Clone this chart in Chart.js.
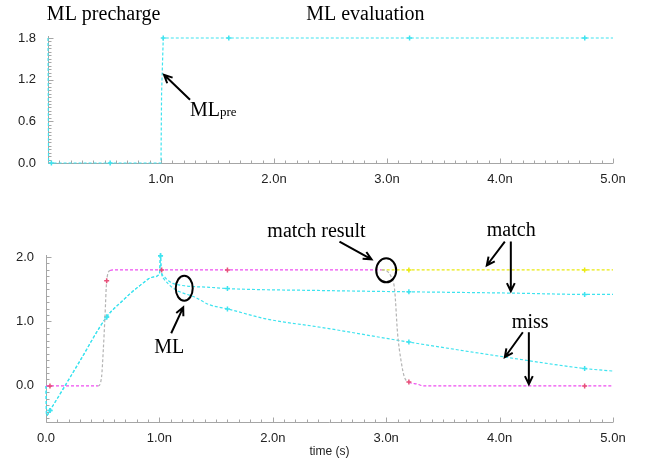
<!DOCTYPE html>
<html>
<head>
<meta charset="utf-8">
<script src="https://cdn.jsdelivr.net/npm/chart.js@4.4.1/dist/chart.umd.min.js"></script>
<style>
  body { margin: 0; background: #fff; }
  #wrap { position: relative; width: 648px; height: 466px; }
  canvas { position: absolute; left: 0; }
</style>
</head>
<body>
<div id="wrap">
  <canvas id="preChart" width="648" height="195" style="top:0"></canvas>
  <canvas id="evalChart" width="648" height="271" style="top:195px"></canvas>
</div>
<script>
// axes (time in ns)
const xMajor = [0, 1, 2, 3, 4, 5];
const xLabelsTop = ['', '1.0n', '2.0n', '3.0n', '4.0n', '5.0n'];
const xLabelsBottom = ['0.0', '1.0n', '2.0n', '3.0n', '4.0n', '5.0n'];
const topYMajor = [0, 0.6, 1.2, 1.8];
const topYLabels = ['0.0', '0.6', '1.2', '1.8'];
const botYMajor = [0, 1, 2];
const botYLabels = ['0.0', '1.0', '2.0'];

// ML precharge signal (top)
const preT = [0, 0.005, 0.03, 0.55, 1.0, 1.005, 1.02, 1.6, 3.2, 4.75, 5.0];
const preV = [1.8, 0, 0, 0, 0, 1.0, 1.8, 1.8, 1.8, 1.8, 1.8];
const preMarks = [0.03, 0.55, 1.02, 1.6, 3.2, 4.75];

// match result, miss case (magenta)
const missResT = [0, 0.035, 0.46, 0.49, 0.505, 0.52, 0.535, 0.565, 0.6, 1.02, 1.6, 2.96, 3.045, 3.075, 3.10, 3.13, 3.16, 3.2, 3.27, 3.33, 4.75, 5.0];
const missResV = [0, 0, 0, 0.14, 0.55, 1.07, 1.63, 1.79, 1.8, 1.8, 1.8, 1.8, 1.69, 1.48, 0.82, 0.40, 0.14, 0.06, 0.03, 0, 0, 0];
const missResMarks = [0.035, 0.535, 1.02, 1.6, 3.2, 4.75];

// match result, match case (yellow)
const matchResT = [0, 0.035, 0.46, 0.49, 0.505, 0.52, 0.535, 0.565, 0.6, 1.02, 1.6, 2.96, 3.2, 4.75, 5.0];
const matchResV = [0, 0, 0, 0.14, 0.55, 1.07, 1.63, 1.79, 1.8, 1.8, 1.8, 1.8, 1.8, 1.8, 1.8];
const matchResMarks = [3.2, 4.75];

// ML, match case (cyan)
const mlMatchT = [0, 0.005, 0.035, 0.285, 0.535, 0.68, 0.83, 0.946, 1.0, 1.01, 1.015, 1.04, 1.08, 1.12, 1.24, 1.44, 1.6, 2.42, 3.2, 4.1, 4.75, 5.0];
const mlMatchV = [0, -0.46, -0.38, 0.345, 1.07, 1.33, 1.56, 1.69, 1.74, 2.02, 1.80, 1.70, 1.63, 1.59, 1.55, 1.53, 1.51, 1.48, 1.46, 1.44, 1.42, 1.42];

// ML, miss case (cyan)
const mlMissT = [0, 0.005, 0.035, 0.285, 0.535, 0.68, 0.83, 0.946, 1.0, 1.01, 1.015, 1.04, 1.08, 1.11, 1.18, 1.31, 1.44, 1.6, 1.94, 2.42, 3.2, 4.04, 4.75, 5.0];
const mlMissV = [0, -0.46, -0.38, 0.345, 1.07, 1.33, 1.56, 1.69, 1.74, 2.02, 1.80, 1.66, 1.58, 1.53, 1.46, 1.38, 1.26, 1.195, 1.04, 0.91, 0.68, 0.45, 0.27, 0.23];
const mlMarks = [0.035, 0.535, 1.01, 1.6, 3.2, 4.75];

// annotations, in data coordinates of each panel
const topTexts = [
  { x: -0.01, y: 2.06, text: 'ML precharge' },
  { x: 2.285, y: 2.06, text: 'ML evaluation' },
  { x: 1.257, y: 0.67, text: 'ML', sub: 'pre' }
];
const topArrows = [[1.257, 0.91, 1.027, 1.27]];
const botTexts = [
  { x: 1.952, y: 2.305, text: 'match result' },
  { x: 3.887, y: 2.32, text: 'match' },
  { x: 4.108, y: 0.895, text: 'miss' },
  { x: 0.954, y: 0.507, text: 'ML' }
];
const botArrows = [
  [2.588, 2.24, 2.871, 1.964],
  [4.046, 2.24, 3.887, 1.868],
  [4.099, 2.24, 4.099, 1.468],
  [4.205, 0.833, 4.046, 0.445],
  [4.258, 0.833, 4.258, 0.026],
  [1.104, 0.817, 1.21, 1.219]
];
const botRings = [[3.0, 1.794, 10, 12], [1.219, 1.515, 8.5, 12.5]];

const CYAN = '#3fe3ef';
const MAGENTA = '#ee4ef0';
const YELLOW = '#eaea10';
const GRAY = '#b4b4b4';

function pts(t, v) {
  return t.map((x, i) => ({ x: x, y: v[i] }));
}

function tickList(majors, step, min, max) {
  const out = [];
  const n = Math.round((max - min) / step);
  for (let i = 0; i <= n; i++) {
    const v = Math.round((min + i * step) * 1000) / 1000;
    out.push({ value: v, big: majors.some(m => Math.abs(m - v) < 1e-6) });
  }
  return out;
}

function labelFor(majors, labels) {
  return (value) => {
    const i = majors.findIndex(m => Math.abs(m - value) < 1e-6);
    return i >= 0 ? labels[i] : '';
  };
}

function lineSet(t, v, color, marks, extra) {
  return Object.assign({
    data: pts(t, v),
    borderColor: color,
    borderWidth: 1.2,
    borderDash: [3, 2],
    pointStyle: 'cross',
    pointRadius: ctx => marks.includes(t[ctx.dataIndex]) ? 2.5 : 0,
    pointBorderColor: color,
    pointBorderWidth: 1.5,
    cubicInterpolationMode: 'monotone',
    fill: false,
    clip: false
  }, extra || {});
}

// steep parts of the match result traces are drawn grey
const steepGray = { borderColor: ctx => Math.abs(ctx.p1.parsed.y - ctx.p0.parsed.y) > 0.03 ? GRAY : undefined };

const axisPlugin = {
  id: 'axisTicks',
  beforeDatasetsDraw(chart) {
    const { ctx, chartArea: a, scales: { x, y } } = chart;
    ctx.save();
    ctx.strokeStyle = '#a6a6a6';
    ctx.lineWidth = 1;
    ctx.beginPath();
    const left = Math.round(a.left) + 0.5;
    const bottom = Math.round(a.bottom) + 0.5;
    ctx.moveTo(left, a.top - 2);
    ctx.lineTo(left, bottom);
    ctx.lineTo(a.right, bottom);
    x.ticks.forEach(t => {
      const px = Math.round(x.getPixelForValue(t.value)) + 0.5;
      ctx.moveTo(px, bottom);
      ctx.lineTo(px, bottom - (t.big ? 5 : 3));
    });
    y.ticks.forEach(t => {
      const py = Math.round(y.getPixelForValue(t.value)) + 0.5;
      ctx.moveTo(left, py);
      ctx.lineTo(left + (t.big ? 5 : 3), py);
    });
    ctx.stroke();
    ctx.restore();
  },
  afterDraw(chart, args, opts) {
    const { ctx, scales: { x, y } } = chart;
    ctx.save();
    ctx.fillStyle = '#000';
    ctx.strokeStyle = '#000';
    ctx.textBaseline = 'alphabetic';
    (opts.texts || []).forEach(n => {
      const px = x.getPixelForValue(n.x);
      const py = y.getPixelForValue(n.y);
      ctx.font = '20px "Liberation Serif", "Times New Roman", serif';
      ctx.fillText(n.text, px, py);
      if (n.sub) {
        const w = ctx.measureText(n.text).width;
        ctx.font = '13px "Liberation Serif", "Times New Roman", serif';
        ctx.fillText(n.sub, px + w, py);
      }
    });
    ctx.lineWidth = 2;
    (opts.arrows || []).forEach(r => {
      const x1 = x.getPixelForValue(r[0]), y1 = y.getPixelForValue(r[1]);
      const x2 = x.getPixelForValue(r[2]), y2 = y.getPixelForValue(r[3]);
      const ang = Math.atan2(y2 - y1, x2 - x1);
      ctx.beginPath();
      ctx.moveTo(x1, y1);
      ctx.lineTo(x2, y2);
      ctx.moveTo(x2 - 9 * Math.cos(ang - 0.45), y2 - 9 * Math.sin(ang - 0.45));
      ctx.lineTo(x2, y2);
      ctx.lineTo(x2 - 9 * Math.cos(ang + 0.45), y2 - 9 * Math.sin(ang + 0.45));
      ctx.stroke();
    });
    (opts.rings || []).forEach(r => {
      ctx.beginPath();
      ctx.ellipse(x.getPixelForValue(r[0]), y.getPixelForValue(r[1]), r[2], r[3], 0, 0, Math.PI * 2);
      ctx.stroke();
    });
    ctx.restore();
  }
};

const tickFont = { family: '"Liberation Sans", Arial, sans-serif', size: 13 };

function makeOptions(p) {
  return {
    responsive: false,
    animation: false,
    devicePixelRatio: 1,
    layout: { padding: { left: 0, right: 35, top: p.top, bottom: 0 } },
    plugins: {
      legend: { display: false },
      tooltip: { enabled: false },
      axisTicks: p.notes
    },
    scales: {
      x: {
        type: 'linear',
        min: 0,
        max: 5,
        afterBuildTicks: s => { s.ticks = tickList(xMajor, 0.1, 0, 5); },
        afterFit: s => { s.height = p.xHeight; },
        grid: { display: false, drawTicks: false },
        border: { display: false },
        ticks: { autoSkip: false, maxRotation: 0, padding: 9, color: '#222', font: tickFont, callback: labelFor(xMajor, p.xLabels) },
        title: p.title
      },
      y: {
        type: 'linear',
        min: p.yMin,
        max: p.yMax,
        afterBuildTicks: s => { s.ticks = tickList(p.yMajor, p.yStep, p.yTickMin, p.yMax); },
        afterFit: s => { s.width = p.yWidth; },
        grid: { display: false, drawTicks: false },
        border: { display: false },
        ticks: { autoSkip: false, padding: 12, color: '#222', font: tickFont, callback: labelFor(p.yMajor, p.yLabels) }
      }
    }
  };
}

const preChart = new Chart(document.getElementById('preChart'), {
  type: 'line',
  data: {
    datasets: [lineSet(preT, preV, CYAN, preMarks, { cubicInterpolationMode: 'default', tension: 0 })]
  },
  options: makeOptions({
    top: 38, xHeight: 32, yWidth: 48,
    yMin: 0, yMax: 1.8, yMajor: topYMajor, yLabels: topYLabels, yStep: 0.05, yTickMin: 0,
    xLabels: xLabelsTop,
    title: { display: false },
    notes: { texts: topTexts, arrows: topArrows }
  }),
  plugins: [axisPlugin]
});

const evalChart = new Chart(document.getElementById('evalChart'), {
  type: 'line',
  data: {
    datasets: [
      lineSet(missResT, missResV, MAGENTA, missResMarks, { pointBorderColor: '#e8507a', segment: steepGray }),
      lineSet(mlMatchT, mlMatchV, CYAN, mlMarks),
      lineSet(mlMissT, mlMissV, CYAN, mlMarks),
      lineSet(matchResT, matchResV, YELLOW, matchResMarks, { segment: { borderColor: ctx => ctx.p0.parsed.x < 2.95 ? 'rgba(0,0,0,0)' : undefined } })
    ]
  },
  options: makeOptions({
    top: 62, xHeight: 44, yWidth: 46,
    yMin: -0.56, yMax: 2.0, yMajor: botYMajor, yLabels: botYLabels, yStep: 0.1, yTickMin: -0.5,
    xLabels: xLabelsBottom,
    title: { display: true, text: 'time (s)', color: '#222', font: { family: '"Liberation Sans", Arial, sans-serif', size: 12 }, padding: { top: 0, bottom: 7 } },
    notes: { texts: botTexts, arrows: botArrows, rings: botRings }
  }),
  plugins: [axisPlugin]
});
</script>
</body>
</html>
